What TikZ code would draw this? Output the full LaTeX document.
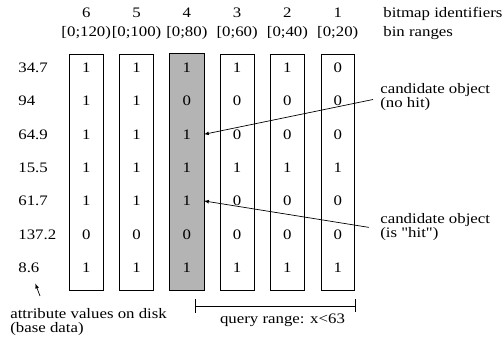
\documentclass[tikz,border=0pt]{standalone}
\usepackage{fontspec}
\setmainfont[FakeStretch=1.16,Ligatures=TeXOff]{Liberation Serif}
\usetikzlibrary{arrows,calc}
\definecolor{hitfill}{RGB}{180,180,180}
\tikzset{
  flow/.style={>=latex,line width=0.7pt},
  txt/.style={font=\fontsize{14.5}{14}\selectfont,inner sep=0pt,anchor=base},
  bitcol/.style={draw,line width=0.8pt,minimum width=33.5pt,minimum height=236pt,inner sep=0pt},
  cell/.style={txt,minimum width=33.5pt},
  note/.style={font=\fontsize{14.5}{14}\selectfont,inner sep=0pt,align=left,anchor=west},
}
\begin{document}
\begin{tikzpicture}[flow,x=1pt,y=-1pt]
\useasboundingbox (0,0) rectangle (503,345);
% bitmap columns with headers
\foreach \id/\bin [count=\c from 0] in {6/{[0;120)},5/{[0;100)},4/{[0;80)},3/{[0;60)},2/{[0;40)},1/{[0;20)}} {
  \pgfmathsetmacro\xc{86.25+50.3*\c}
  \node[bitcol] (b\id) at (\xc,172) {};
  \node[txt] (id\id) at (\xc,17.5) {\id};
  \node[txt] (bin\id) at (\xc,37) {\bin};
}
\fill[hitfill] (b4.south west) rectangle (b4.north east);
\draw[line width=0.8pt] (b4.south west) rectangle (b4.north east);
\node[txt,anchor=base west] (lid) at (383,17.5) {bitmap identifiers};
\node[txt,anchor=base west] (lbin) at (383,37) {bin ranges};
% attribute values and bits
\foreach \v/\bits [count=\r] in {34.7/{1,1,1,1,1,0},94/{1,1,0,0,0,0},64.9/{1,1,1,0,0,0},
    15.5/{1,1,1,1,1,1},61.7/{1,1,1,0,0,0},137.2/{0,0,0,0,0,0},8.6/{1,1,1,1,1,1}} {
  \pgfmathsetmacro\yb{72.5+33.3*(\r-1)}
  \node[txt,anchor=base west] (val\r) at (18,\yb) {\v};
  \foreach \b [count=\c from 0] in \bits {
    \pgfmathtruncatemacro\id{6-\c}
    \pgfmathsetmacro\xc{86.25+50.3*\c}
    \node[cell] (cell\id-\r) at (\xc,\yb) {\b};
  }
}
% annotations
\node[note] (nohit) at (380,97.5) {candidate object\\(no hit)};
\node[note] (ishit) at (380,227.4) {candidate object\\(is "hit")};
\node[note] (attr) at (10,322) {attribute values on disk\\(base data)};
\draw[<-] (cell4-3.east) -- ([xshift=-7pt,yshift=-2pt]nohit.west);
\draw[<-] (cell4-5.east) -- ([xshift=-11pt]ishit.west);
\draw[->] ([xshift=30pt,yshift=12pt]attr.north west) -- ([xshift=6.5pt,yshift=-10.7pt]val7.south);
% query range
\coordinate (qa) at (195,306);
\coordinate (qb) at (355,306);
\draw (qa) -- (qb);
\draw ([yshift=7pt]qa) -- ([yshift=-7pt]qa);
\draw ([yshift=7pt]qb) -- ([yshift=-6pt]qb);
\node[txt] (query) at (282.5,323.3) {query range: x<63};
\end{tikzpicture}
\end{document}
